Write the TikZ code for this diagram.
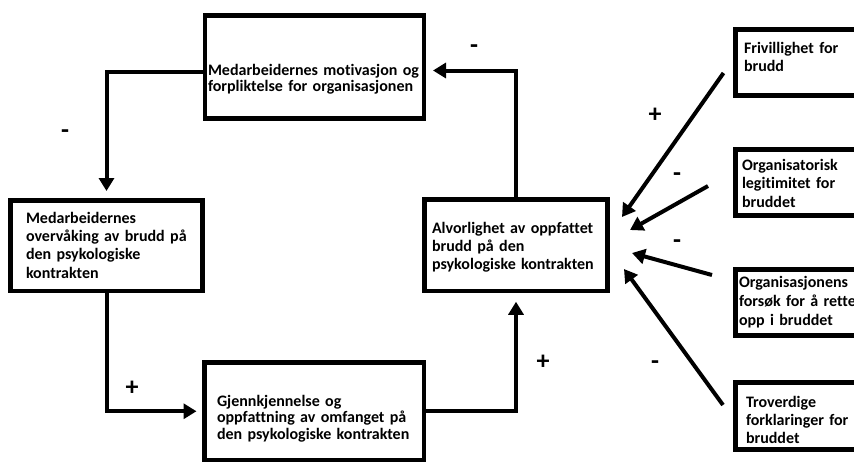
\documentclass[tikz,border=0pt]{standalone}
\usepackage{fontspec}
\setmainfont{Carlito}[Ligatures=NoCommon]
\usetikzlibrary{arrows.meta}
\begin{document}
\begin{tikzpicture}[x=1pt,y=-1pt,
  box/.style={draw, line width=4.5pt, rectangle, inner sep=0pt, outer sep=0pt},
  txt/.style={anchor=base west, inner sep=0pt, outer sep=0pt, text width=260pt, align=left},
  fnt/.style={font=\bfseries\fontsize{16}{#1}\selectfont},
  conn/.style={line width=4pt, -{Triangle[length=13pt,width=15pt]}},
  sign/.style={font=\bfseries\fontsize{26}{26}\selectfont, inner sep=0pt}
]
\useasboundingbox (0,0) rectangle (854,464);
\clip (0,0) rectangle (854,464);
\fill[white] (0,0) rectangle (854,464);
% boxes
\node[box, minimum width=219pt, minimum height=103pt] (b1) at (314.5,67) {};
\node[box, minimum width=192pt, minimum height=90.5pt] (b2) at (106.5,245.75) {};
\node[box, minimum width=219.5pt, minimum height=97.5pt] (b3) at (314.25,411.25) {};
\node[box, minimum width=183pt, minimum height=91.5pt] (b4) at (516,245) {};
\node[box, minimum width=134.5pt, minimum height=66pt] (r1) at (802.75,62.5) {};
\node[box, minimum width=134.5pt, minimum height=66pt] (r2) at (802.75,182.5) {};
\node[box, minimum width=134.5pt, minimum height=66pt] (r3) at (802.75,302.5) {};
\node[box, minimum width=134.5pt, minimum height=67pt] (r4) at (802.75,416) {};
% texts
\node[txt, fnt=16] (t1) at (208,75) {Medarbeidernes motivasjon og\\forpliktelse for organisasjonen};
\node[txt, fnt=18.4] (t2) at (26,223) {Medarbeidernes\\overvåking av brudd på\\den psykologiske\\kontrakten};
\node[txt, fnt=16.5] (t3) at (217,406) {Gjennkjennelse og\\oppfattning av omfanget på\\den psykologiske kontrakten};
\node[txt, fnt=18] (t4) at (432,233) {Alvorlighet av oppfattet\\brudd på den\\psykologiske kontrakten};
\node[txt, fnt=18] (t5) at (744,53) {Frivillighet for\\brudd};
\node[txt, fnt=18.5] (t6) at (742,170) {Organisatorisk\\legitimitet for\\bruddet};
\node[txt, fnt=19] (t7) at (739,287) {Organisasjonens\\forsøk for å rette\\opp i bruddet};
\node[txt, fnt=18] (t8) at (746,407) {Troverdige\\forklaringer for\\bruddet};
% loop connectors
\draw[conn, shorten >=9.5pt] ([yshift=-4.5pt]b1.west) -| (b2.north);
\draw[conn, shorten >=8pt] (b2.south) |- (b3.west);
\draw[conn, shorten >=11pt] (b3.east) -| (b4.south);
\draw[conn, shorten >=9pt] (b4.north) |- ([yshift=-3.5pt]b1.east);
% influence arrows
\coordinate (p1) at (622,217);
\coordinate (p2) at (630,230);
\coordinate (p3) at (632,253);
\coordinate (p4) at (624,269);
\draw[conn] ([xshift=-12pt,yshift=-10.5pt]r1.west) -- (p1);
\draw[conn] ([xshift=-27.5pt,yshift=-3.5pt]r2.west) -- (p2);
\draw[conn] ([xshift=-23.5pt,yshift=27.5pt]r3.west) -- (p3);
\draw[conn] ([xshift=-12.5pt,yshift=11pt]r4.west) -- (p4);
% signs
\node[sign] (s1) at (65,134) {-};
\node[sign] (s2) at (132,388) {+};
\node[sign] (s3) at (543,362) {+};
\node[sign] (s4) at (474,49) {-};
\node[sign] (s5) at (655,115) {+};
\node[sign] (s6) at (677,177) {-};
\node[sign] (s7) at (677,244) {-};
\node[sign] (s8) at (655,365) {-};
\end{tikzpicture}
\end{document}
